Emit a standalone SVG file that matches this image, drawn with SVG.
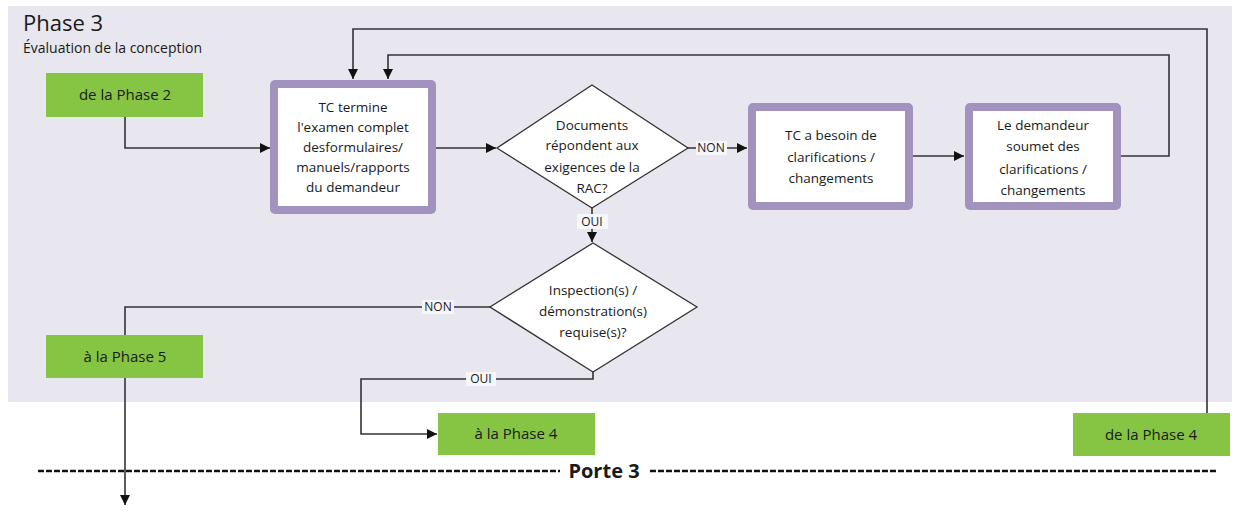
<svg xmlns="http://www.w3.org/2000/svg" width="1243" height="516" viewBox="0 0 1243 516">
<style>
.t{font-family:"Open Sans","Noto Sans",sans-serif;fill:#1a1a1a}
.box{font-size:13.5px;text-anchor:middle}
.gr{fill:#86c443}
.gt{font-size:15px;text-anchor:middle}
.outer{fill:#a193bd}
.inner{fill:#ffffff}
.dia{fill:#ffffff;stroke:#333;stroke-width:1.3}
.ln{fill:none;stroke:#333;stroke-width:1.6}
.lbl{font-size:12px;text-anchor:middle}
.lb{fill:#f7f6fa}
.dash{stroke:#111;stroke-width:2.4;stroke-dasharray:6 2}
</style>
<defs>
<marker id="ah" markerUnits="userSpaceOnUse" markerWidth="11" markerHeight="11" refX="10" refY="5" orient="auto"><path d="M0,0 L10,5 L0,10 z" fill="#111"/></marker>
</defs>
<rect width="1243" height="516" fill="#ffffff"/>
<rect x="8" y="6" width="1224" height="396" fill="#e8e6ee"/>
<text class="t" x="23" y="31" font-size="22">Phase 3</text>
<text class="t" x="23" y="53" font-size="14">Évaluation de la conception</text>

<g id="connectors">
<path class="ln" d="M125,117 V148 H270" marker-end="url(#ah)"/>
<path class="ln" d="M435,148 H496" marker-end="url(#ah)"/>
<path class="ln" d="M688,148 H747" marker-end="url(#ah)"/>
<path class="ln" d="M913,156 H964" marker-end="url(#ah)"/>
<path class="ln" d="M1121,156 H1169 V55 H388 V79" marker-end="url(#ah)"/>
<path class="ln" d="M1207,413 V29 H353 V79" marker-end="url(#ah)"/>
<path class="ln" d="M592,208 V242" marker-end="url(#ah)"/>
<path class="ln" d="M490,307 H125 V505" marker-end="url(#ah)"/>
<path class="ln" d="M593,372 V379 H361 V434 H437" marker-end="url(#ah)"/>
<rect class="lb" x="696" y="141" width="31" height="14"/>
<text class="t lbl" x="711" y="152">NON</text>
<rect class="lb" x="577" y="214" width="31" height="15"/>
<text class="t lbl" x="592" y="226">OUI</text>
<rect class="lb" x="422" y="300" width="32" height="14"/>
<text class="t lbl" x="438" y="311">NON</text>
<rect class="lb" x="466" y="372" width="30" height="14"/>
<text class="t lbl" x="481" y="383">OUI</text>
</g>

<g id="phase2">
<rect class="gr" x="46" y="73" width="157" height="44"/>
<text class="t gt" x="125" y="100">de  la Phase 2</text>
</g>

<g id="tc-examen">
<rect class="outer" x="270" y="80" width="166" height="134" rx="5"/>
<rect class="inner" x="278" y="88" width="150" height="118"/>
<text class="t box" x="353" y="112">TC termine</text>
<text class="t box" x="353" y="132">l'examen complet</text>
<text class="t box" x="353" y="152">desformulaires/</text>
<text class="t box" x="353" y="172">manuels/rapports</text>
<text class="t box" x="353" y="192">du demandeur</text>
</g>

<g id="decision-rac">
<polygon class="dia" points="592,85 688,148 592,208 497,148"/>
<text class="t box" x="592" y="130">Documents</text>
<text class="t box" x="592" y="150">répondent aux</text>
<text class="t box" x="592" y="172">exigences de la</text>
<text class="t box" x="592" y="193">RAC?</text>
</g>

<g id="tc-besoin">
<rect class="outer" x="748" y="103" width="165" height="107" rx="5"/>
<rect class="inner" x="756" y="111" width="149" height="91"/>
<text class="t box" x="831" y="140">TC a besoin de</text>
<text class="t box" x="831" y="162">clarifications /</text>
<text class="t box" x="831" y="183">changements</text>
</g>

<g id="demandeur">
<rect class="outer" x="965" y="103" width="156" height="107" rx="5"/>
<rect class="inner" x="973" y="111" width="140" height="91"/>
<text class="t box" x="1043" y="130">Le demandeur</text>
<text class="t box" x="1043" y="151">soumet des</text>
<text class="t box" x="1043" y="174">clarifications /</text>
<text class="t box" x="1043" y="195">changements</text>
</g>

<g id="decision-inspection">
<polygon class="dia" points="593,243 697,307 593,372 490,307"/>
<text class="t box" x="593" y="295">Inspection(s) /</text>
<text class="t box" x="593" y="316">démonstration(s)</text>
<text class="t box" x="593" y="337">requise(s)?</text>
</g>

<g id="phase5">
<rect class="gr" x="46" y="335" width="157" height="43"/>
<text class="t gt" x="125" y="362">à la Phase 5</text>
</g>

<g id="phase4-out">
<rect class="gr" x="438" y="413" width="157" height="42"/>
<text class="t gt" x="516" y="439">à la Phase 4</text>
</g>

<g id="phase4-in">
<rect class="gr" x="1073" y="413" width="157" height="43"/>
<text class="t gt" x="1151" y="440">de  la Phase 4</text>
</g>

<g id="porte3">
<line class="dash" x1="38" y1="471" x2="560" y2="471"/>
<line class="dash" x1="650" y1="471" x2="1218" y2="471"/>
<text class="t" x="604" y="478" font-size="20" font-weight="bold" text-anchor="middle">Porte 3</text>
</g>
</svg>
